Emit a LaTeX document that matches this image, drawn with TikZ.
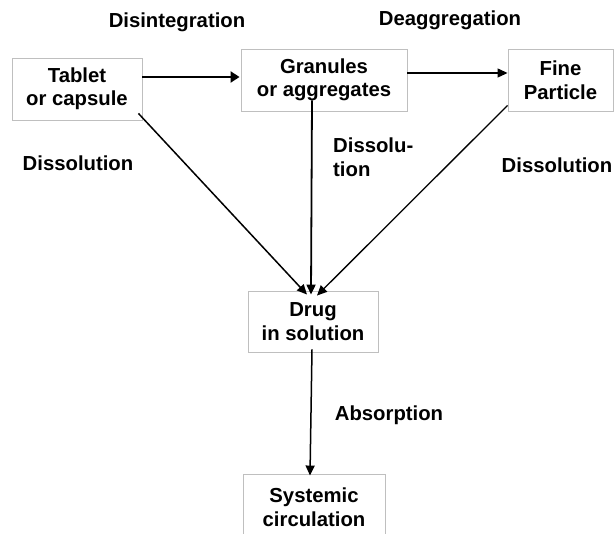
\documentclass[tikz,border=0pt]{standalone}
\usepackage{fontspec}
\setmainfont{Liberation Sans}
\usetikzlibrary{arrows.meta}
\begin{document}
\begin{tikzpicture}[x=1pt,y=-1pt,
  font=\fontsize{20.3}{23.5}\selectfont\bfseries,
  box/.style={draw=black!25,line width=0.9pt,inner sep=0pt,align=center,fill=white},
  lbl/.style={inner sep=0pt,align=center},
  arr/.style={line width=1.5pt,-{Triangle[length=10pt,width=9pt]}},
  thickarr/.style={line width=2.4pt,-{Triangle[length=9pt,width=11pt]}}]
\useasboundingbox (0,0) rectangle (614,534);
\node[box,minimum width=130pt,minimum height=62pt] (tab) at (77,89) {Tablet\\ or capsule};
\node[box,minimum width=166pt,minimum height=62pt] (gran) at (324,80) {Granules\\ or aggregates};
\node[box,minimum width=105pt,minimum height=62pt] (fine) at (560.5,80) {Fine\\ Particle};
\node[box,minimum width=130pt,minimum height=61pt] (drug) at (313,321.5) {Drug\\ in solution};
\node[box,minimum width=142pt,minimum height=66pt] (sys) at (314,507) {Systemic\\ circulation};
\node[lbl] (l1) at (177,22) {Disintegration};
\node[lbl] (l2) at (450,20) {Deaggregation};
\node[lbl] (l3) at (78,163) {Dissolution};
\node[lbl,anchor=west,align=left] (l4) at (333,157) {Dissolu-\\tion};
\node[lbl] (l5) at (557,165) {Dissolution};
\node[lbl] (l6) at (389,415) {Absorption};
\draw[thickarr] ([yshift=12pt]tab.east) -- ([yshift=12pt,xshift=-1pt]tab.east -| gran.west);
\draw[arr,line width=1.2pt] ([yshift=7pt]gran.east) -- ([yshift=7pt]fine.west);
\draw[arr] ([xshift=-4pt,yshift=7pt]tab.south east) -- ([xshift=-6pt,yshift=-4pt]drug.north);
\draw[arr,line width=1.8pt] ([xshift=-12pt,yshift=11pt]gran.south) -- ([xshift=-2pt,yshift=-4pt]drug.north);
\draw[arr,line width=1.3pt] ([yshift=6pt]fine.south west) -- ([xshift=4pt,yshift=-5pt]drug.north);
\draw[arr] ([yshift=3pt]drug.south -| 312,0) -- ([yshift=-2pt]sys.north -| 310,0);
\end{tikzpicture}
\end{document}
